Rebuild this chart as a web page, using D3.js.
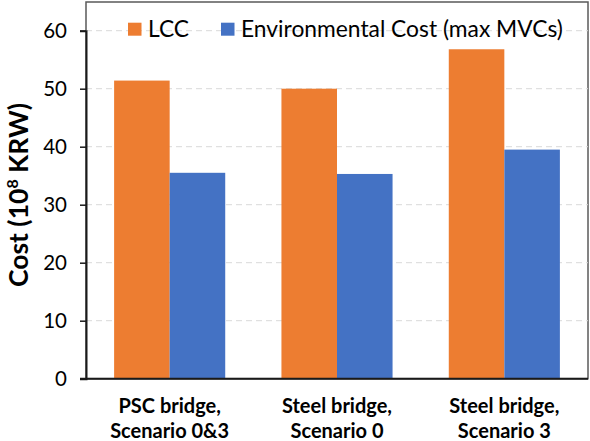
<!DOCTYPE html>
<html><head><meta charset="utf-8">
<script src="https://cdn.jsdelivr.net/npm/d3@7"></script>
<style>body{margin:0;background:#fff}svg{display:block}</style>
</head><body>
<svg id="c" width="590" height="441"></svg>
<script>
const categories = [["PSC bridge,", "Scenario 0&3"], ["Steel bridge,", "Scenario 0"], ["Steel bridge,", "Scenario 3"]];
const seriesNames = ["LCC", "Environmental Cost (max MVCs)"];
const lccValues = [51.4, 50.0, 56.8];
const envValues = [35.5, 35.3, 39.5];
const yTicks = [0, 10, 20, 30, 40, 50, 60];
const colors = ["#ED7D31", "#4472C4"];

const font = "Lato, 'Open Sans', sans-serif";
const svg = d3.select("#c");
const L = 86, R = 588, T = 2, B = 378.7;
const y = d3.scaleLinear().domain([0, 60]).range([B, 30.7]);
const x0 = d3.scaleBand().domain(d3.range(categories.length)).range([L, R]).paddingInner(0.336).paddingOuter(0.168);
const x1 = d3.scaleBand().domain([0, 1]).range([0, x0.bandwidth()]);

// frame
svg.append("rect").attr("x", L).attr("y", T).attr("width", R - L).attr("height", B - T)
  .attr("fill", "none").attr("stroke", "#5a5a5a").attr("stroke-width", 1.5);

// gridlines
svg.append("g").selectAll("line").data(yTicks.filter(d => d > 0)).join("line")
  .attr("x1", L).attr("x2", R).attr("y1", d => y(d)).attr("y2", d => y(d))
  .attr("stroke", "#d9d9d9").attr("stroke-dasharray", "6,4").attr("stroke-width", 1);

// bars
const data = categories.map((c, i) => [lccValues[i], envValues[i]]);
const g = svg.append("g");
data.forEach((vals, i) => {
  vals.forEach((v, j) => {
    g.append("rect").attr("x", x0(i) + x1(j)).attr("width", x1.bandwidth())
      .attr("y", y(v)).attr("height", y(0) - y(v)).attr("fill", colors[j]);
  });
});

// y axis
const ya = svg.append("g").attr("transform", `translate(${L},0)`)
  .call(d3.axisLeft(y).tickValues(yTicks).tickSize(6).tickPadding(13));
ya.select(".domain").attr("stroke", "#1a1a1a").attr("stroke-width", 2);
ya.selectAll(".tick line").attr("stroke", "#1a1a1a").attr("stroke-width", 1.5);
ya.selectAll("text").attr("font-family", font).attr("font-size", 20.5).attr("fill", "#000");

// bottom axis line
svg.append("line").attr("x1", L - 6).attr("x2", R).attr("y1", B).attr("y2", B)
  .attr("stroke", "#1a1a1a").attr("stroke-width", 2);

// x labels
categories.forEach((c, i) => {
  const t = svg.append("text").attr("text-anchor", "middle").attr("font-family", font)
    .attr("font-weight", "bold").attr("font-size", 20).attr("fill", "#000");
  c.forEach((line, k) => {
    t.append("tspan").attr("x", x0(i) + x0.bandwidth() / 2).attr("y", 413 + k * 24.5).text(line);
  });
});

// y title
const yt = svg.append("text").attr("transform", "translate(28,195) rotate(-90)")
  .attr("text-anchor", "middle").attr("font-family", font).attr("font-weight", "bold")
  .attr("font-size", 26.5).attr("fill", "#000");
yt.append("tspan").text("Cost (10");
yt.append("tspan").attr("font-size", 16).attr("dy", -10).text("8");
yt.append("tspan").attr("dy", 10).text(" KRW)");

// legend
const legX = [128, 221];
seriesNames.forEach((n, j) => {
  svg.append("rect").attr("x", legX[j]).attr("y", 22.7).attr("width", 13.5).attr("height", 13).attr("fill", colors[j]);
  svg.append("text").attr("x", legX[j] + 20).attr("y", 37).attr("font-family", font)
    .attr("font-size", 22.8).attr("fill", "#000").text(n);
});
</script>
</body></html>
